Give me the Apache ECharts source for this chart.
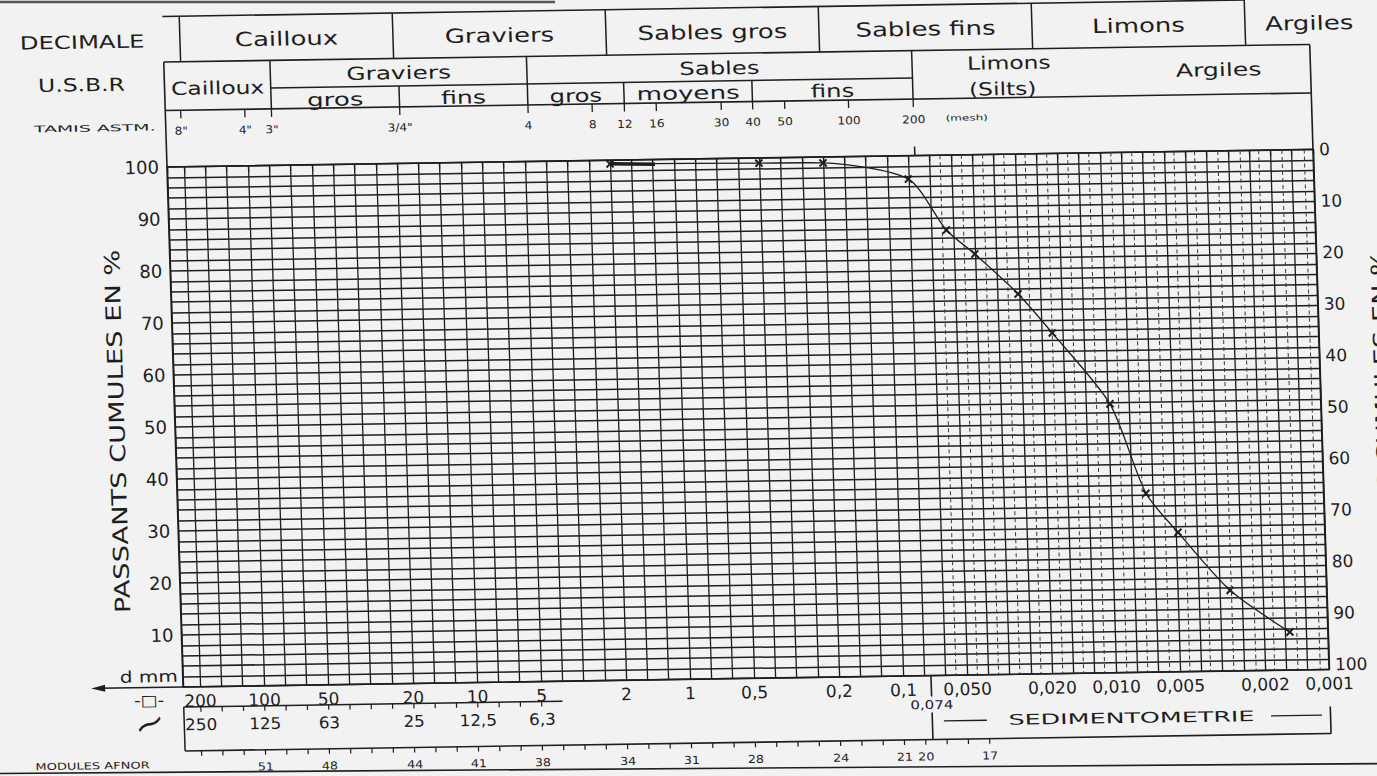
<!DOCTYPE html>
<html><head><meta charset="utf-8">
<script src="https://cdn.jsdelivr.net/npm/echarts@6/dist/echarts.min.js"></script>
<style>
html,body{margin:0;padding:0;width:1377px;height:776px;overflow:hidden;background:#f2f2f2;}
#wrap{position:absolute;left:-40px;top:-30px;width:1460px;height:840px;transform-origin:207px 197px;transform:matrix(1,-0.0153,0.031,1,0,0);}
</style></head><body><div id="wrap"></div>
<script>
// ---- data ----
const sizeMm     = [2.0, 0.40, 0.20, 0.080, 0.054, 0.040, 0.0254, 0.0178, 0.00977, 0.00682, 0.00489, 0.00284, 0.00151];
const passingPct = [99.3, 99.0, 98.85, 95.5, 85.6, 80.9, 73.1, 65.5, 51.7, 34.4, 26.8, 15.5, 7.3];
const thickMm    = [2.0, 1.23];
const thickPct   = [99.3, 99.1];

const leftTicks  = [10, 20, 30, 40, 50, 60, 70, 80, 90, 100];
const rightTicks = [0, 10, 20, 30, 40, 50, 60, 70, 80, 90, 100];

const mmTickValues = [200, 100, 50, 20, 10, 5, 2, 1, 0.5, 0.2, 0.1, 0.05, 0.02, 0.01, 0.005, 0.002, 0.001];
const mmTickLabels = ['200','100','50','20','10','5','2','1','0,5','0,2','0,1','0,050','0,020','0,010','0,005','0,002','0,001'];
const roundHoleLabels = ['250','125','63','25','12,5','6,3'];
const roundHoleAt     = [200, 100, 50, 20, 10, 5];
const afnorLabels  = [51, 48, 44, 41, 38, 34, 31, 28, 24, 21, 20, 17];
const astmLabels = ['8"','4"','3"','3/4"','4','8','12','16','30','40','50','100','200'];
const astmMm     = [203.2, 101.6, 76.2, 19.05, 4.76, 2.38, 1.68, 1.19, 0.59, 0.42, 0.297, 0.149, 0.074];
const decimaleNames  = ['Cailloux','Graviers','Sables gros','Sables fins','Limons','Argiles'];
const decimaleBounds = [200, 20, 2, 0.2, 0.02, 0.002, 0.0005];
const usbrBounds = [76.2, 4.76, 0.074];          // Cailloux | Graviers | Sables | Limons-Argiles
const usbrSubBounds = [19.05, 1.68, 0.42];       // gros|fins, gros|moyens, moyens|fins
const extraGridMm = [0.0564, 0.0448, 0.0356, 0.0283, 0.0225, 0.0178, 0.0142, 0.0113, 0.0089, 0.0071, 0.0056, 0.0045, 0.0036, 0.0028, 0.0022, 0.0018, 0.0014, 0.0011];

// ---- layout ----
const OX = 40, OY = 30;
const GL = 167 + OX, GT = 167 + OY, GW = 1146, GH = 520;
const INK = '#1e1e1e';
const FONT = "'DejaVu Sans', 'Liberation Sans', sans-serif";
const CROSS = 'path://M4,0H6V4H10V6H6V10H4V6H0V4H4Z';

const chart = echarts.init(document.getElementById('wrap'), null, {renderer: 'svg', width: 1460, height: 840});

const isTick = (v, arr) => Math.abs(v - Math.round(v)) < 1e-6 && arr.includes(Math.round(v));

const option = {
  animation: false,
  backgroundColor: '#f2f2f2',
  grid: {left: GL, top: GT, width: GW, height: GH, show: true, borderColor: INK, borderWidth: 1.7, backgroundColor: 'transparent'},
  xAxis: [
    {type: 'log', logBase: 10, min: 0.001, max: 240, inverse: true, position: 'top', show: false},
    {type: 'value', min: -3, max: Math.log10(240), interval: 0.1, inverse: true, position: 'bottom',
     axisLine: {show: false}, axisLabel: {show: false},
     axisTick: {show: true, length: 6, lineStyle: {color: INK, width: 1.3}},
     splitLine: {show: true, lineStyle: {color: INK, width: 1.3}}}
  ],
  yAxis: [
    {type: 'value', min: 0, max: 100, interval: 2, position: 'left',
     axisLine: {show: false}, axisTick: {show: false},
     axisLabel: {formatter: v => isTick(v, leftTicks) ? String(Math.round(v)) : '', fontSize: 18, color: INK, fontFamily: FONT, margin: 8},
     splitLine: {show: true, lineStyle: {color: INK, width: 1.5}}},
    {type: 'value', min: 0, max: 101, interval: 10, inverse: true, position: 'right',
     axisLine: {show: false}, axisTick: {show: false}, splitLine: {show: false},
     axisLabel: {formatter: v => isTick(v, rightTicks) ? String(Math.round(v)) : '', fontSize: 17, color: INK, fontFamily: FONT, margin: 6}}
  ],
  series: [
    {type: 'line', name: 'debut', xAxisIndex: 0, yAxisIndex: 0, symbol: 'none',
     data: thickMm.map((d, i) => [d, thickPct[i]]),
     lineStyle: {color: INK, width: 3.5}, z: 9},
    {type: 'line', name: 'Passants', xAxisIndex: 0, yAxisIndex: 0,
     data: sizeMm.map((d, i) => [d, passingPct[i]]),
     smooth: 0.25, symbol: CROSS, symbolSize: 10, symbolRotate: 45,
     lineStyle: {color: INK, width: 1.3}, itemStyle: {color: INK}, z: 10}
  ]
};
chart.setOption(option);

// ---- table / annotation graphics positioned through the axis scale ----
const X = v => chart.convertToPixel({xAxisIndex: 0}, v);
const Y = r => GT + r;
const mid = (a, b) => (X(a) + X(b)) / 2;
function L(x1, y1, x2, y2, w, dash, col) {
  return {type: 'line', silent: true, z: 15, shape: {x1, y1, x2, y2},
          style: {stroke: col || INK, lineWidth: w || 1.5, lineDash: dash || null}};
}
function T(s, x, y, size, sx, opts) {
  opts = opts || {};
  const al = opts.align || 'center';
  return {type: 'text', x: x, y: y, scaleX: sx || 1, rotation: opts.rot || 0, silent: true, z: 20,
    style: {text: s, fontSize: size, fontFamily: FONT, fill: INK,
            align: al, verticalAlign: 'middle', textAlign: al, textVerticalAlign: 'middle'}};
}
const G = [];
// scan edge artefact
G.push({type: 'line', silent: true, shape: {x1: OX, y1: OY - 0.5, x2: OX + 560, y2: OY + 8}, style: {stroke: '#555', lineWidth: 2.5}});

// extra dashed lines of the sedimentometry zone
extraGridMm.forEach(v => G.push(L(X(v), Y(0), X(v), Y(GH), 1, [4, 3], '#3a3a3a')));

// left captions
G.push(T('DECIMALE', OX + 86, OY + 41, 18, 1.35));
G.push(T('U.S.B.R', OX + 84, OY + 84, 18, 1.3));
G.push(T('TAMIS ASTM.', OX + 96, OY + 127, 9, 2.1));

// DECIMALE row
const decTop = -150.5, decBot = -105;
G.push(L(GL, Y(decTop), X(0.002), Y(decTop), 1.6));
G.push(L(GL, Y(decBot), GL + GW, Y(decBot), 1.6));
for (let i = 0; i < decimaleBounds.length - 1; i++) {
  G.push(L(X(decimaleBounds[i]), Y(decTop), X(decimaleBounds[i]), Y(decBot), 1.5));
  G.push(T(decimaleNames[i], mid(decimaleBounds[i], decimaleBounds[i + 1]), Y(-126.5), 19.5, 1.33));
}

// USBR row
const uMid = -77.5, uBot = -56.5;
G.push(L(GL, Y(decBot), GL, Y(0), 1.6));
G.push(L(GL + GW, Y(decBot), GL + GW, Y(0), 1.6));
usbrBounds.forEach(v => G.push(L(X(v), Y(decBot), X(v), Y(uBot), 1.5)));
G.push(L(X(usbrBounds[0]), Y(uMid), X(usbrBounds[2]), Y(uMid), 1.5));
usbrSubBounds.forEach(v => G.push(L(X(v), Y(uMid), X(v), Y(uBot), 1.5)));
G.push(L(GL, Y(uBot), GL + GW, Y(uBot), 1.6));
G.push(T('Cailloux', (GL + X(76.2)) / 2, Y(-78), 18, 1.3));
G.push(T('Graviers', mid(76.2, 4.76), Y(-90.5), 18, 1.38));
G.push(T('gros', mid(76.2, 19.05), Y(-65), 18, 1.45));
G.push(T('fins', mid(19.05, 4.76), Y(-65), 18, 1.4));
G.push(T('Sables', mid(4.76, 0.074), Y(-90.5), 18, 1.35));
G.push(T('gros', mid(4.76, 1.68), Y(-65), 18, 1.35));
G.push(T('moyens', mid(1.68, 0.42), Y(-66), 18, 1.45));
G.push(T('fins', mid(0.42, 0.074), Y(-66), 18, 1.35));
G.push(T('Limons', X(0.026), Y(-91), 18, 1.3));
G.push(T('(Silts)', X(0.028), Y(-65), 18, 1.3));
G.push(T('Argiles', X(0.0027), Y(-81), 18, 1.4));

// ASTM sieves
astmMm.forEach((v, i) => {
  G.push(L(X(v), Y(uBot), X(v), Y(uBot + 8), 1.3));
  G.push(T(astmLabels[i], X(v), Y(-36), 11, 1.1));
});
G.push(T('(mesh)', X(0.074) + 53, Y(-37), 8, 1.5));
G.push(L(X(0.074), Y(-9), X(0.074), Y(0), 1.5));

// bottom: row 1 (square sieves, mm)
mmTickValues.forEach((v, i) => G.push(T(mmTickLabels[i], X(v), Y(534), 17, 1)));
G.push(T('0,074', X(0.074), Y(549), 12, 1.25));
G.push(L(X(0.074), Y(GH), X(0.074), Y(541), 1.6));
G.push(L(X(0.074), Y(557), X(0.074), Y(584), 1.6));
G.push(T('-\u25A1-', GL - 34.5, Y(533), 15, 1.2));
G.push(T('\u223C', GL - 35, Y(556), 30, 1.3, {rot: 0.45}));
G.push(T('d mm', GL - 5, Y(509), 16, 1.25, {align: 'right'}));
G.push(L(GL, Y(GH), GL - 84, Y(GH), 1.6));
G.push({type: 'polygon', silent: true, z: 15, shape: {points: [[GL - 92, Y(GH)], [GL - 78, Y(GH - 3.5)], [GL - 78, Y(GH + 3.5)]]}, style: {fill: INK}});

// row 2 (round holes)
G.push(L(GL, Y(540), X(4.0), Y(540), 1.5));
G.push(L(GL, Y(540), GL, Y(584), 1.5));
for (let k = 0; k <= 16; k++) {
  const d = Math.pow(10, 2.3 - 0.1 * k);
  G.push(L(X(d), Y(540), X(d), Y(545), 1.2));
}
roundHoleAt.forEach((v, i) => G.push(T(roundHoleLabels[i], X(v), Y(558), 16, 1.05)));

// AFNOR modules
G.push(L(GL, Y(584), GL + GW, Y(584), 1.6));
const moduleToMm = m => 0.08 * Math.pow(10, (m - 20) / 10);
for (let m = 17; m <= 54; m++) G.push(L(X(moduleToMm(m)), Y(584), X(moduleToMm(m)), Y(589), 1.2));
afnorLabels.forEach(m => G.push(T(String(m), X(moduleToMm(m)), Y(601), 11, 1.15)));
G.push(T('MODULES AFNOR', OX + 74, Y(597.5), 9.5, 1.37));
G.push(L(GL - 210, Y(603.4), GL + 1230, Y(615.2), 1.6));

// sedimentometry bracket
G.push(T('SEDIMENTOMETRIE', (X(0.074) + GL + GW) / 2, Y(565.5), 14.5, 1.75));
G.push(L(X(0.074) + 11.5, Y(565.5), X(0.074) + 54.5, Y(565.5), 1.4));
G.push(L(GL + GW - 59.5, Y(565.5), GL + GW - 8.5, Y(565.5), 1.4));
G.push(L(GL + GW, Y(557), GL + GW, Y(584), 1.6));

// axis names
G.push(T('PASSANTS CUMULES EN %', OX + 109, OY + 430.5, 21, 1.3, {rot: Math.PI / 2}));
G.push(T('REFUS CUMULES EN %', OX + 1375, OY + 424, 21, 1.3, {rot: Math.PI / 2}));

chart.setOption({graphic: {elements: G}});
</script>
</body></html>
